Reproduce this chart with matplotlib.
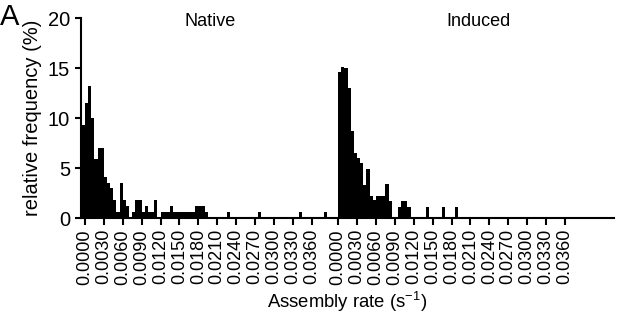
import matplotlib
matplotlib.use("Agg")
import matplotlib.pyplot as plt
import numpy as np

plt.rcParams['font.family'] = ['Liberation Sans', 'DejaVu Sans']
plt.rcParams['mathtext.fontset'] = 'custom'
plt.rcParams['mathtext.rm'] = 'Liberation Sans'
plt.rcParams['mathtext.default'] = 'regular'

# ---- data (bin centres in s^-1, relative frequency in %) ----
native_rate = [-0.00025, 0.00025, 0.00075, 0.00125, 0.00175, 0.00225, 0.00275,
               0.00325, 0.00375, 0.00425, 0.00475, 0.00525, 0.00575, 0.00625,
               0.00675, 0.00775, 0.00825, 0.00875, 0.00925, 0.00975, 0.01025,
               0.01075, 0.01125, 0.01225, 0.01275, 0.01325, 0.01375, 0.01425,
               0.01475, 0.01525, 0.01575, 0.01625, 0.01675, 0.01725, 0.01775,
               0.01825, 0.01875, 0.01925, 0.02275, 0.02775, 0.03425, 0.03825]
native_freq = [9.3, 11.5, 13.2, 10.0, 5.9, 7.0, 7.0,
               4.1, 3.5, 3.0, 1.8, 0.6, 3.5, 1.8,
               1.2, 0.6, 1.8, 1.8, 0.6, 1.2, 0.6,
               0.6, 1.8, 0.6, 0.6, 0.6, 1.2, 0.6,
               0.6, 0.6, 0.6, 0.6, 0.6, 0.6, 1.2,
               1.2, 1.2, 0.6, 0.6, 0.6, 0.6, 0.6]

induced_rate = [0.00025, 0.00075, 0.00125, 0.00175, 0.00225, 0.00275, 0.00325,
                0.00375, 0.00425, 0.00475, 0.00525, 0.00575, 0.00625, 0.00675,
                0.00725, 0.00775, 0.00825, 0.00975, 0.01025, 0.01075, 0.01125,
                0.01425, 0.01675, 0.01875]
induced_freq = [14.6, 15.1, 15.0, 13.0, 8.7, 6.5, 6.0,
                5.5, 3.3, 4.9, 2.2, 1.8, 2.2, 2.2,
                2.2, 3.4, 1.7, 1.1, 1.7, 1.7, 1.1,
                1.1, 1.1, 1.1]

tick_values = [0.0, 0.003, 0.006, 0.009, 0.012, 0.015, 0.018, 0.021, 0.024,
               0.027, 0.030, 0.033, 0.036]
tick_labels = ["0.0000", "0.0030", "0.0060", "0.0090", "0.0120", "0.0150", "0.0180",
               "0.0210", "0.0240", "0.0270", "0.0300", "0.0330", "0.0360"]
y_ticks = [0, 5, 10, 15, 20]

# ---- layout / style ----
BIN = 0.0005
OFFSET = 0.0402   # where the "Induced" panel starts on the shared axis

fig = plt.figure(figsize=(6.17, 3.14), dpi=100)
ax = fig.add_axes([81/617, 96/314, 533/617, 200/314])

ax.bar(native_rate, native_freq, width=BIN, color='black', edgecolor='none', linewidth=0)
ax.bar(np.array(induced_rate) + OFFSET, induced_freq, width=BIN, color='black',
       edgecolor='none', linewidth=0)

ax.set_xlim(-0.00063, 0.0840)
ax.set_ylim(0, 20)

xt = list(tick_values) + [t + OFFSET for t in tick_values]
ax.set_xticks(xt)
ax.set_xticklabels(tick_labels + tick_labels, rotation=90, fontsize=13)
ax.set_yticks(y_ticks)
ax.set_yticklabels([str(v) for v in y_ticks], fontsize=14.5)

for s in ['top', 'right']:
    ax.spines[s].set_visible(False)
for s in ['left', 'bottom']:
    ax.spines[s].set_linewidth(1.5)
ax.tick_params(axis='both', direction='out', width=1.5, length=5, color='black')
ax.tick_params(axis='y', length=4, pad=4)
ax.tick_params(axis='x', pad=3)

ax.set_ylabel('relative frequency (%)', fontsize=14.5, labelpad=4)
ax.set_xlabel('Assembly rate (s$^{\\mathregular{-1}}$)', fontsize=13.3, labelpad=4)

fig.text(210/617, 1 - 22/314, 'Native', fontsize=13, ha='center', va='center')
fig.text(478/617, 1 - 22/314, 'Induced', fontsize=13, ha='center', va='center')
fig.text(0.0, 1 - 17/314, 'A', fontsize=21, ha='left', va='center')

fig.savefig('out.png', dpi=100)
